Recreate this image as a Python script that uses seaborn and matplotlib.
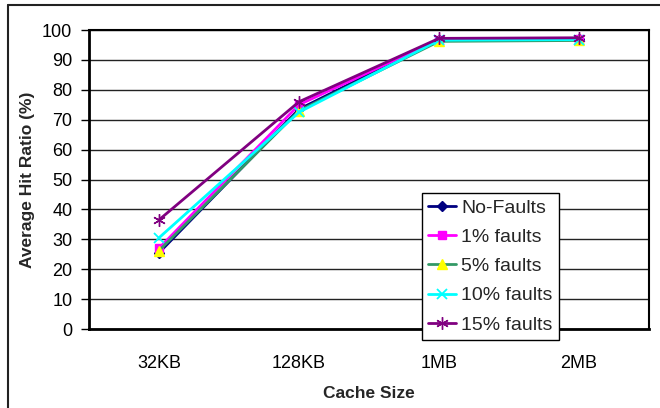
import matplotlib
matplotlib.use("Agg")
import matplotlib.pyplot as plt
import seaborn as sns
import pandas as pd
import numpy as np
from matplotlib.lines import Line2D

categories = ["32KB", "128KB", "1MB", "2MB"]
no_faults = [25.5, 73.5, 96.8, 97.0]
faults_1 = [27.0, 75.0, 96.8, 97.0]
faults_5 = [26.2, 73.0, 96.2, 96.5]
faults_10 = [30.5, 72.5, 96.6, 96.8]
faults_15 = [36.5, 76.0, 97.2, 97.4]
series_names = ["No-Faults", "1% faults", "5% faults", "10% faults", "15% faults"]

sns.set_style("white")
plt.rcParams["font.family"] = ["Liberation Sans", "DejaVu Sans"]

fig = plt.figure(figsize=(6.6, 4.08), dpi=100)
ax = fig.add_axes([89 / 660, 1 - 329 / 408, 560 / 660, 299 / 408])

styles = [
    dict(color="#000080", marker="D", mfc="#000080", mec="#000080", ms=5),
    dict(color="#FF00FF", marker="s", mfc="#FF00FF", mec="#FF00FF", ms=6),
    dict(color="#339966", marker="^", mfc="#FFFF00", mec="#FFFF00", ms=7),
    dict(color="#00FFFF", marker="x", mfc="#00FFFF", mec="#00FFFF", ms=7, mew=1.3),
    dict(color="#800080", marker=(6, 2, 0), mfc="#800080", mec="#800080", ms=9, mew=1.0),
]
all_vals = [no_faults, faults_1, faults_5, faults_10, faults_15]
pos = np.arange(len(categories))
for name, vals, st in zip(series_names, all_vals, styles):
    df = pd.DataFrame({"pos": pos, "val": vals})
    sns.lineplot(data=df, x="pos", y="val", ax=ax, color=st["color"], lw=2,
                 marker=st["marker"], markerfacecolor=st["mfc"],
                 markeredgecolor=st["mec"], markersize=st["ms"],
                 markeredgewidth=st.get("mew", 1.0), label=name)

ax.set_xlim(-0.5, len(categories) - 0.5)
ax.set_ylim(0, 100)
ax.set_yticks(range(0, 101, 10))
ax.yaxis.grid(True, color="#222222", lw=1)
ax.xaxis.grid(False)
ax.set_xticks(pos)
ax.set_xticklabels(categories)
ax.set_xticks(np.arange(-0.5, len(categories), 1.0), minor=True)
ax.tick_params(axis="x", which="major", length=0, pad=19, labelsize=13, colors="black")
ax.tick_params(axis="x", which="minor", length=6, width=1, color="#555555", direction="out")
ax.tick_params(axis="y", length=6, width=1, direction="out", labelsize=13, colors="black",
               left=True, pad=6)
for s in ["left", "bottom"]:
    ax.spines[s].set_color("black")
    ax.spines[s].set_linewidth(2)
for s in ["top", "right"]:
    ax.spines[s].set_color("black")
    ax.spines[s].set_linewidth(1.5)
ax.set_xlabel("Cache Size", fontsize=12.5, fontweight="bold", labelpad=10)
ax.set_ylabel("Average Hit Ratio (%)", fontsize=12.5, fontweight="bold", labelpad=5)

leg = ax.legend(loc="lower left", bbox_to_anchor=((422 - 89) / 560, (329 - 340) / 299),
                fontsize=14, frameon=True, fancybox=False, shadow=False, framealpha=1,
                edgecolor="black", borderpad=0.32, labelspacing=0.6,
                handlelength=1.45, handletextpad=0.26, borderaxespad=0)
leg.get_frame().set_linewidth(1.0)
leg.set_zorder(10)

# outer chart border (left and top edges visible; right/bottom run off the image)
fig.add_artist(Line2D([7.5 / 660, 7.5 / 660], [0, 1 - 4.5 / 408], transform=fig.transFigure,
                      color="#222222", lw=1.5))
fig.add_artist(Line2D([7.5 / 660, 1], [1 - 4.5 / 408, 1 - 4.5 / 408], transform=fig.transFigure,
                      color="#222222", lw=1.5))

fig.savefig("out.png", dpi=100)
